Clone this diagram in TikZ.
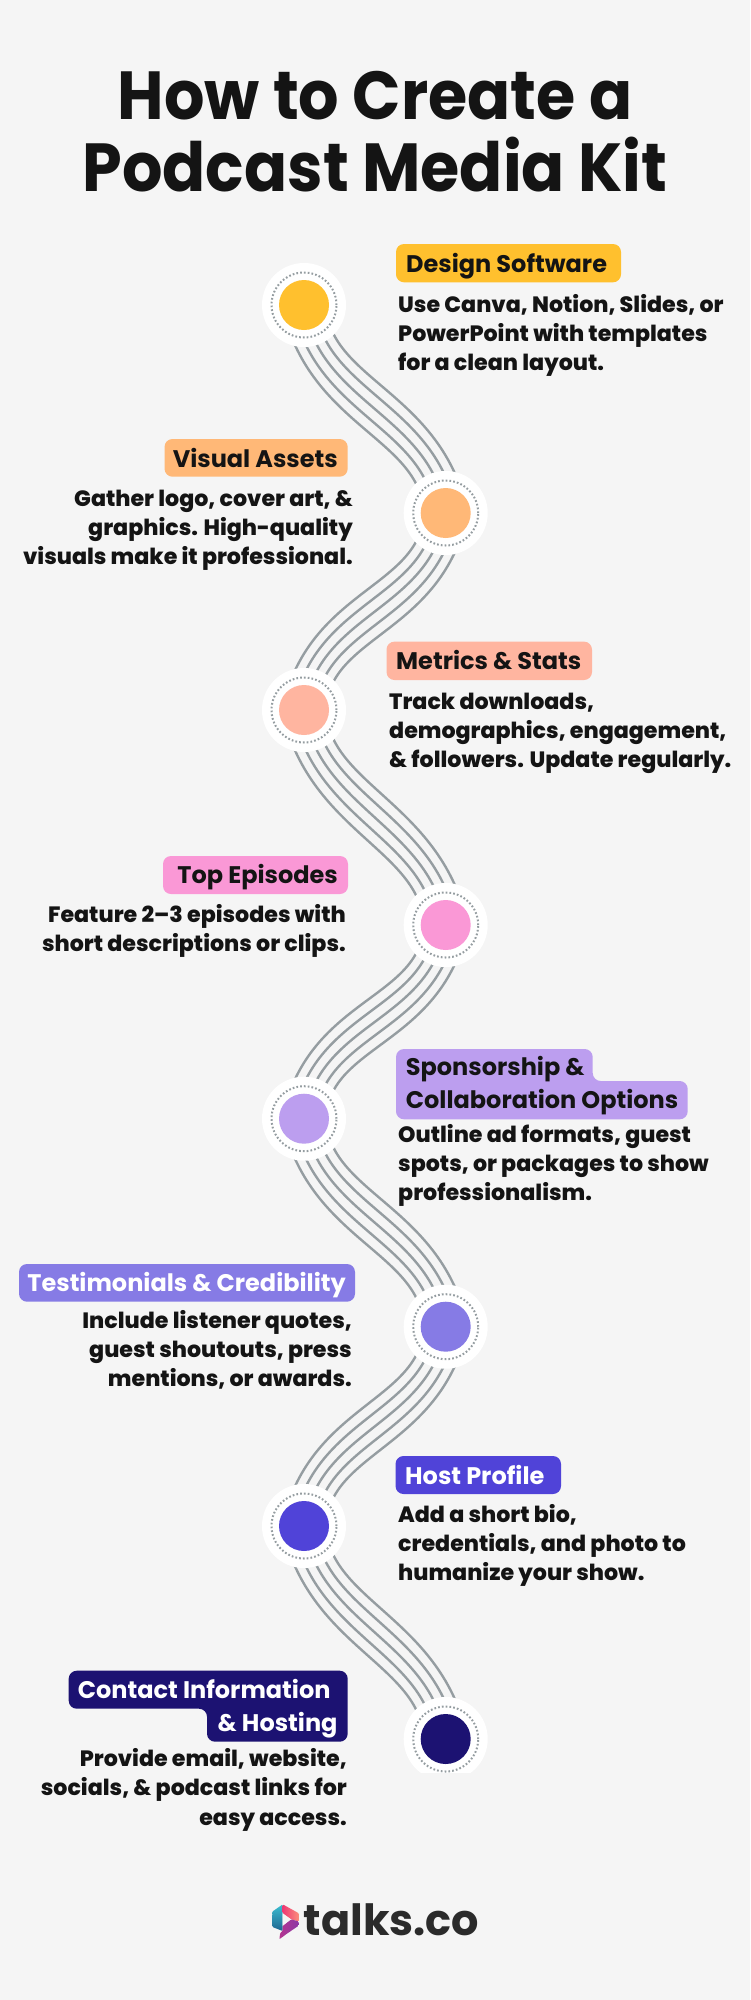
\documentclass[tikz,border=0pt]{standalone}
\usepackage{fontspec}
\usetikzlibrary{calc,backgrounds}
\setmainfont{Poppins}[BoldFont={Poppins ExtraBold}]
\newfontfamily\headfont{Poppins Bold}
\newfontfamily\titlefont{Poppins Bold}[FakeStretch=0.935]
\newfontfamily\logofont{Poppins Bold}
\definecolor{bgc}{HTML}{F5F5F5}
\definecolor{ink}{HTML}{141414}
\definecolor{wire}{HTML}{959DA1}
\definecolor{cA}{HTML}{FFC02E}
\definecolor{cB}{HTML}{FFB877}
\definecolor{cC}{HTML}{FFB5A0}
\definecolor{cD}{HTML}{FA98D6}
\definecolor{cE}{HTML}{BC9EEF}
\definecolor{cF}{HTML}{867BE5}
\definecolor{cG}{HTML}{5043D8}
\definecolor{cH}{HTML}{1C1272}
\definecolor{lgTeal}{HTML}{3CBFD2}
\definecolor{lgBlue}{HTML}{1F6590}
\definecolor{lgPink}{HTML}{EE3A74}
\definecolor{lgSalm}{HTML}{FB8E7C}
\definecolor{lgPurA}{HTML}{B4358F}
\definecolor{lgPurB}{HTML}{8C3AA6}
\tikzset{
  x=1pt,y=-1pt,
  wireline/.style={draw=wire,line width=2.4pt},
  halo/.style={circle,fill=white,minimum size=84pt,inner sep=0pt},
  ring/.style={circle,draw=wire,line width=2pt,dash pattern=on 1.7pt off 2.1pt,minimum size=65pt,inner sep=0pt},
  core/.style={circle,minimum size=50pt,inner sep=0pt},
  body/.style={font=\fontsize{22.15}{29}\selectfont\bfseries,text=ink,inner sep=0pt},
  head/.style={font=\fontsize{24}{33}\headfont,inner sep=0pt},
  titletext/.style={font=\fontsize{68}{74}\titlefont,text=ink,inner sep=0pt},
  badge/.style={rounded corners=8pt},
}
\begin{document}
\begin{tikzpicture}
\useasboundingbox (0,0) rectangle (750,2000);
\begin{scope}[on background layer]
\fill[bgc] (0,0) rectangle (750,2000);
\end{scope}
\node[titletext,anchor=base] (t1) at (375,119.5) {How to Create a};
\node[titletext,anchor=base] (t2) at (375,191.5) {Podcast Media Kit};

% stations
\foreach \n/\c/\px/\py in {1/cA/304/305,2/cB/445.7/513,3/cC/304/710,4/cD/445.7/925,5/cE/304/1118.7,6/cF/445.7/1326.7,7/cG/304/1526,8/cH/445.7/1739}{
  \node[halo] (p\n) at (\px,\py) {};
  \ifnum\n=8 \fill[bgc] (395,1772.7) rectangle (495,1785); \fi
  \node[ring] (r\n) at (\px,\py) {};
  \node[core,fill=\c] (c\n) at (\px,\py) {};
}

% connectors: five parallel strands between neighbouring stations
\begin{scope}[on background layer]
\foreach \a/\b/\d in {1/2/1,2/3/-1,3/4/1,4/5/-1,5/6/1,6/7/-1,7/8/1}{
  \foreach \o in {-22,-11,0,11,22}{
    \draw[wireline] ($(p\a)+(\o,0)$) .. controls ($(p\a)+({\d*14+.49*\o},{98-\d*1.04*\o})$) and ($(p\b)+({-\d*14+.49*\o},{-98-\d*1.04*\o})$) .. ($(p\b)+(\o,0)$);
  }
}
\end{scope}

% badges
\fill[cA,badge] (396,244) rectangle (621,282.3);
\node[head,text=ink,anchor=base west] (l1) at (406,272) {Design Software};
\fill[cB,badge] (164.5,439) rectangle (347.7,476.7);
\node[head,text=ink,anchor=base east] (l2) at (338,467) {Visual Assets};
\fill[cC,badge] (386.5,641.6) rectangle (592,680);
\node[head,text=ink,anchor=base west] (l3) at (396,669) {Metrics \& Stats};
\fill[cD,badge] (163,856) rectangle (348,894);
\node[head,text=ink,anchor=base east] (l4) at (338,883) {Top Episodes};
\fill[cE,badge] (396,1049) -- (592.7,1049) -- (592.7,1081) -- (687.7,1081) -- (687.7,1119.3) -- (396,1119.3) -- cycle;
\node[head,text=ink,anchor=base west] (l5a) at (405.7,1075) {Sponsorship \&};
\node[head,text=ink,anchor=base west] (l5b) at (405.7,1108) {Collaboration Options};
\fill[cF,badge] (19,1264) rectangle (355,1301.7);
\node[head,text=white,anchor=base east] (l6) at (346,1291) {Testimonials \& Credibility};
\fill[cG,badge] (395.5,1456) rectangle (561,1494);
\node[head,text=white,anchor=base west] (l7) at (405,1484) {Host Profile};
\fill[cH,badge] (68.7,1670.7) -- (347.7,1670.7) -- (347.7,1741.7) -- (207,1741.7) -- (207,1708.7) -- (68.7,1708.7) -- cycle;
\node[head,text=white,anchor=base east] (l8a) at (330.7,1698) {Contact Information};
\node[head,text=white,anchor=base east] (l8b) at (337.7,1731) {\& Hosting};

% body copy
\node[body,anchor=base west] at (398,312) {Use Canva, Notion, Slides, or};
\node[body,anchor=base west] at (398,341) {PowerPoint with templates};
\node[body,anchor=base west] at (398,370) {for a clean layout.};
\node[body,anchor=base east] at (353,506) {Gather logo, cover art, \&};
\node[body,anchor=base east] at (353,535) {graphics. High-quality};
\node[body,anchor=base east] at (353,564) {visuals make it professional.};
\node[body,anchor=base west] at (389,709) {Track downloads,};
\node[body,anchor=base west] at (389,738) {demographics, engagement,};
\node[body,anchor=base west] at (389,767) {\& followers. Update regularly.};
\node[body,anchor=base east] at (346,922) {Feature 2–3 episodes with};
\node[body,anchor=base east] at (346,951) {short descriptions or clips.};
\node[body,anchor=base west] at (398,1142.7) {Outline ad formats, guest};
\node[body,anchor=base west] at (398,1171.7) {spots, or packages to show};
\node[body,anchor=base west] at (398,1200.7) {professionalism.};
\node[body,anchor=base east] at (352,1328) {Include listener quotes,};
\node[body,anchor=base east] at (352,1357) {guest shoutouts, press};
\node[body,anchor=base east] at (352,1386) {mentions, or awards.};
\node[body,anchor=base west] at (398,1522.7) {Add a short bio,};
\node[body,anchor=base west] at (398,1551.7) {credentials, and photo to};
\node[body,anchor=base west] at (398,1580.7) {humanize your show.};
\node[body,anchor=base east] at (347,1766.7) {Provide email, website,};
\node[body,anchor=base east] at (347,1795.7) {socials, \& podcast links for};
\node[body,anchor=base east] at (347,1825) {easy access.};

% footer
\shade[top color=lgTeal,bottom color=lgBlue,rounded corners=1pt] (272.2,1911.7) -- (282.7,1904.3) -- (282.7,1931) -- (272.5,1927) -- cycle;
\shade[left color=lgPink,right color=lgSalm,rounded corners=1pt] (282.7,1904.3) -- (298.9,1913.3) -- (298.9,1921.5) -- (291,1919.3) -- (282.7,1913.3) -- cycle;
\shade[left color=lgPurA,right color=lgPurB,rounded corners=1pt] (291,1919.3) -- (298.9,1921.5) -- (298.9,1925.5) -- (286,1934.3) -- (279.3,1939.3) -- (280.3,1932.7) -- (282.7,1931) -- (282.7,1925.7) -- cycle;
\fill[bgc] (282.7,1913.3) -- (291,1919.3) -- (282.7,1925.7) -- cycle;
\node[font=\fontsize{43}{46}\logofont,text=black!83,inner sep=0pt,anchor=base west] (logo) at (303.5,1935.7) {talks.co};
\end{tikzpicture}
\end{document}
